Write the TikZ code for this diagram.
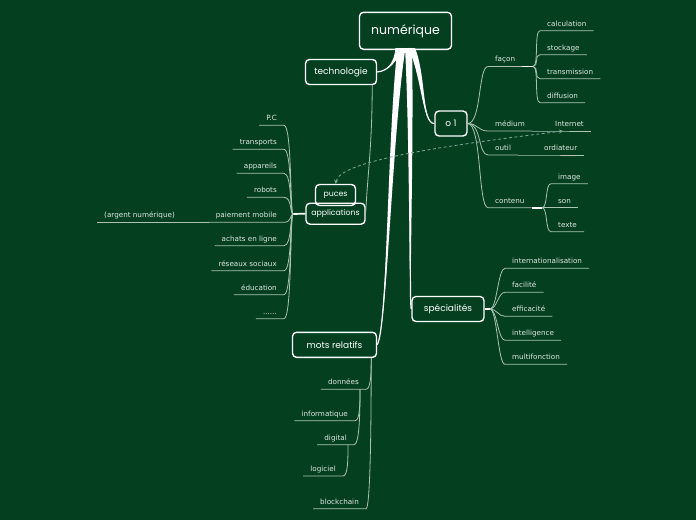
\documentclass[tikz,border=0pt]{standalone}
\usepackage{fontspec}
\setmainfont{DejaVu Sans}
\newfontfamily\hand{Poppins}
\usetikzlibrary{calc,arrows.meta}
\definecolor{bg}{RGB}{4,64,32}
\definecolor{ln}{RGB}{170,195,178}
\definecolor{lf}{RGB}{225,232,226}
\definecolor{dsh}{RGB}{125,168,152}
\newcommand\mytrunk[5]{%
  \fill[white] ($(#1)+(-#5,0)$) .. controls ($(#2)+(-#5*0.6,0)$) and (#3) .. (#4)
     .. controls (#3) and ($(#2)+(#5*0.6,0)$) .. ($(#1)+(#5,0)$) -- cycle;
  \draw[white,line width=1.2pt] (#1) .. controls (#2) and (#3) .. (#4);}
\begin{document}
\begin{tikzpicture}[x=1pt,y=-1pt,
  topic/.style={draw=white,fill=bg,line width=1.4pt,rounded corners=4pt,text=white,
    font=\hand\fontsize{9}{11}\selectfont,inner sep=0pt,align=center},
  leafr/.style={anchor=south west,text=lf,font=\fontsize{7.2}{8.6}\selectfont,
    inner xsep=7pt,inner ysep=3pt,text height=5.5pt,text depth=1.5pt},
  leafl/.style={leafr,anchor=south east},
  conn/.style={draw=ln,line width=0.8pt},
  wconn/.style={draw=white,line width=1.7pt},
  dconn/.style={draw=dsh,line width=0.8pt,dash pattern=on 3pt off 2.5pt,
    {Stealth[length=4pt,width=4pt]}-{Stealth[length=4pt,width=4pt]}}
]
\fill[bg] (0,0) rectangle (696,520);
\useasboundingbox (0,0) rectangle (696,520);

% main topics
\node[topic,minimum width=92pt,minimum height=37pt,font=\hand\fontsize{12.5}{14}\selectfont] (num) at (405.5,30.8) {numérique};
\node[topic,minimum width=71pt,minimum height=25pt] (tech) at (341,72) {technologie};
\node[topic,minimum width=32pt,minimum height=25pt] (o1) at (451,123.5) {o 1};
\node[topic,minimum width=59pt,minimum height=21pt,font=\hand\fontsize{7.8}{9}\selectfont] (app) at (335.5,213.7) {applications};
\node[topic,fill=none,minimum width=40pt,minimum height=21pt,font=\hand\fontsize{7.8}{9}\selectfont] (puces) at (335.5,195) {puces};
\node[topic,minimum width=72pt,minimum height=25pt] (spec) at (448,309) {spécialités};
\node[topic,minimum width=84pt,minimum height=25pt] (mr) at (334.5,344.8) {mots relatifs};

% trunks
\coordinate (ta) at ($(num.south)+(-7,-2)$);
\coordinate (tb) at ($(num.south)+(6,-2)$);
\coordinate (tc) at ($(num.south)+(-4,-2)$);
\coordinate (td) at ($(num.south)+(3,-2)$);
\mytrunk{ta}{396,62}{388,71}{tech.east}{3}
\mytrunk{tb}{424,75}{422,124}{o1.west}{3.5}
\mytrunk{tc}{390,130}{387,330}{mr.east}{4}
\mytrunk{td}{412,140}{409,305}{spec.west}{3.5}

% o 1 children
\node[leafr] (facon) at (488,66.5) {façon};
\coordinate (fh) at (533,66.5);
\node[leafr] (c1) at (540,30.7) {calculation};
\node[leafr] (c2) at (540,54.7) {stockage};
\node[leafr] (c3) at (540,78.7) {transmission};
\node[leafr] (c4) at (540,102.7) {diffusion};
\node[leafr] (med) at (488,131) {médium};
\node[leafr] (inet) at (548,131) {Internet};
\node[leafr] (outil) at (488,155) {outil};
\node[leafr] (ordi) at (537,155) {ordiateur};
\node[leafr] (cont) at (488,207.7) {contenu};
\coordinate (ch) at (542,207.7);
\node[leafr] (img) at (551,183.7) {image};
\node[leafr] (son) at (551,207.7) {son};
\node[leafr] (texte) at (551,231.7) {texte};

\draw[conn] (o1.east) .. controls +(14,0) and +(-10,0) .. (facon.south west) -- (facon.south east);
\draw[wconn] (facon.south east) -- (fh);
\foreach \n in {c1,c2,c3,c4}
  \draw[conn] (fh) .. controls +(6,0) and +(-6,0) .. (\n.south west) -- (\n.south east);
\draw[conn] (o1.east) .. controls +(10,0) and +(-10,0) .. (med.south west) -- (med.south east);
\draw[conn] (med.south east) -- (inet.south west) -- (inet.south east);
\draw[conn] (o1.east) .. controls +(14,0) and +(-10,0) .. (outil.south west) -- (outil.south east);
\draw[conn] (outil.south east) -- (ordi.south west) -- (ordi.south east);
\draw[conn] (o1.east) .. controls +(14,0) and +(-10,0) .. (cont.south west) -- (cont.south east);
\draw[wconn] (cont.south east) -- (ch);
\foreach \n in {img,texte}
  \draw[conn] (ch) .. controls +(6,0) and +(-6,0) .. (\n.south west) -- (\n.south east);
\draw[conn] (ch) -- (son.south west) -- (son.south east);

% spécialités children
\coordinate (sh) at (490,309);
\node[leafr] (s1) at (505,268.3) {internationalisation};
\node[leafr] (s2) at (505,292.3) {facilité};
\node[leafr] (s3) at (505,316.3) {efficacité};
\node[leafr] (s4) at (505,340.3) {intelligence};
\node[leafr] (s5) at (505,364.3) {multifonction};
\draw[wconn] (spec.east) -- (sh);
\foreach \n in {s1,s2,s3,s4,s5}
  \draw[conn] (sh) .. controls +(7,0) and +(-7,0) .. (\n.south west) -- (\n.south east);

% applications children
\coordinate (ah) at (293,214);
\node[leafl] (a1) at (284,125.3) {P.C};
\node[leafl] (a2) at (284,149.3) {transports};
\node[leafl] (a3) at (284,173.3) {appareils};
\node[leafl] (a4) at (284,197.3) {robots};
\node[leafl] (a5) at (284,222.3) {paiement mobile};
\node[leafr] (arg) at (97,222.3) {(argent numérique)};
\node[leafl] (a6) at (284,245.7) {achats en ligne};
\node[leafl] (a7) at (284,270.7) {réseaux sociaux};
\node[leafl] (a8) at (284,294.7) {éducation};
\node[leafl] (a9) at (284,318.7) {......};
\draw[wconn] (app.west) -- (ah);
\foreach \n in {a1,a2,a3,a4,a5,a6,a7,a8,a9}
  \draw[conn] (ah) .. controls +(-3,0) and +(8,0) .. (\n.south east) -- (\n.south west);
\draw[conn] (a5.south west) -- (arg.south east) -- (arg.south west);

% technologie -> applications
\draw[conn] ($(tech.south east)+(-5,0)$) .. controls +(0,60) and +(2,-40) .. ($(app.east)+(0,-1)$);

% mots relatifs children
\coordinate (mh) at ($(mr.south east)+(-6,0)$);
\node[leafl] (m1) at (366,389.3) {données};
\node[leafl] (m2) at (355,420.7) {informatique};
\node[leafl] (m3) at (354,444.7) {digital};
\node[leafl] (m4) at (343,476) {logiciel};
\node[leafl] (m5) at (366,508.7) {blockchain};
\draw[conn] (mh) .. controls +(0,14) and +(5,0) .. (m1.south east) -- (m1.south west);
\draw[conn] (mh) .. controls +(0,80) and +(4,0) .. (m5.south east) -- (m5.south west);
\draw[conn] ($(m1.south east)+(-6,0)$) .. controls +(0,14) and +(5,0) .. (m2.south east) -- (m2.south west);
\draw[conn] ($(m1.south east)+(-6,0)$) .. controls +(0,30) and +(5,0) .. (m3.south east) -- (m3.south west);
\draw[conn] ($(m3.south east)+(-6,0)$) .. controls +(0,14) and +(5,0) .. (m4.south east) -- (m4.south west);

% dashed relation
\draw[dconn] (puces.north) .. controls (340,160) and (450,145) .. ($(inet.south west)+(15,0)$);
\end{tikzpicture}
\end{document}
